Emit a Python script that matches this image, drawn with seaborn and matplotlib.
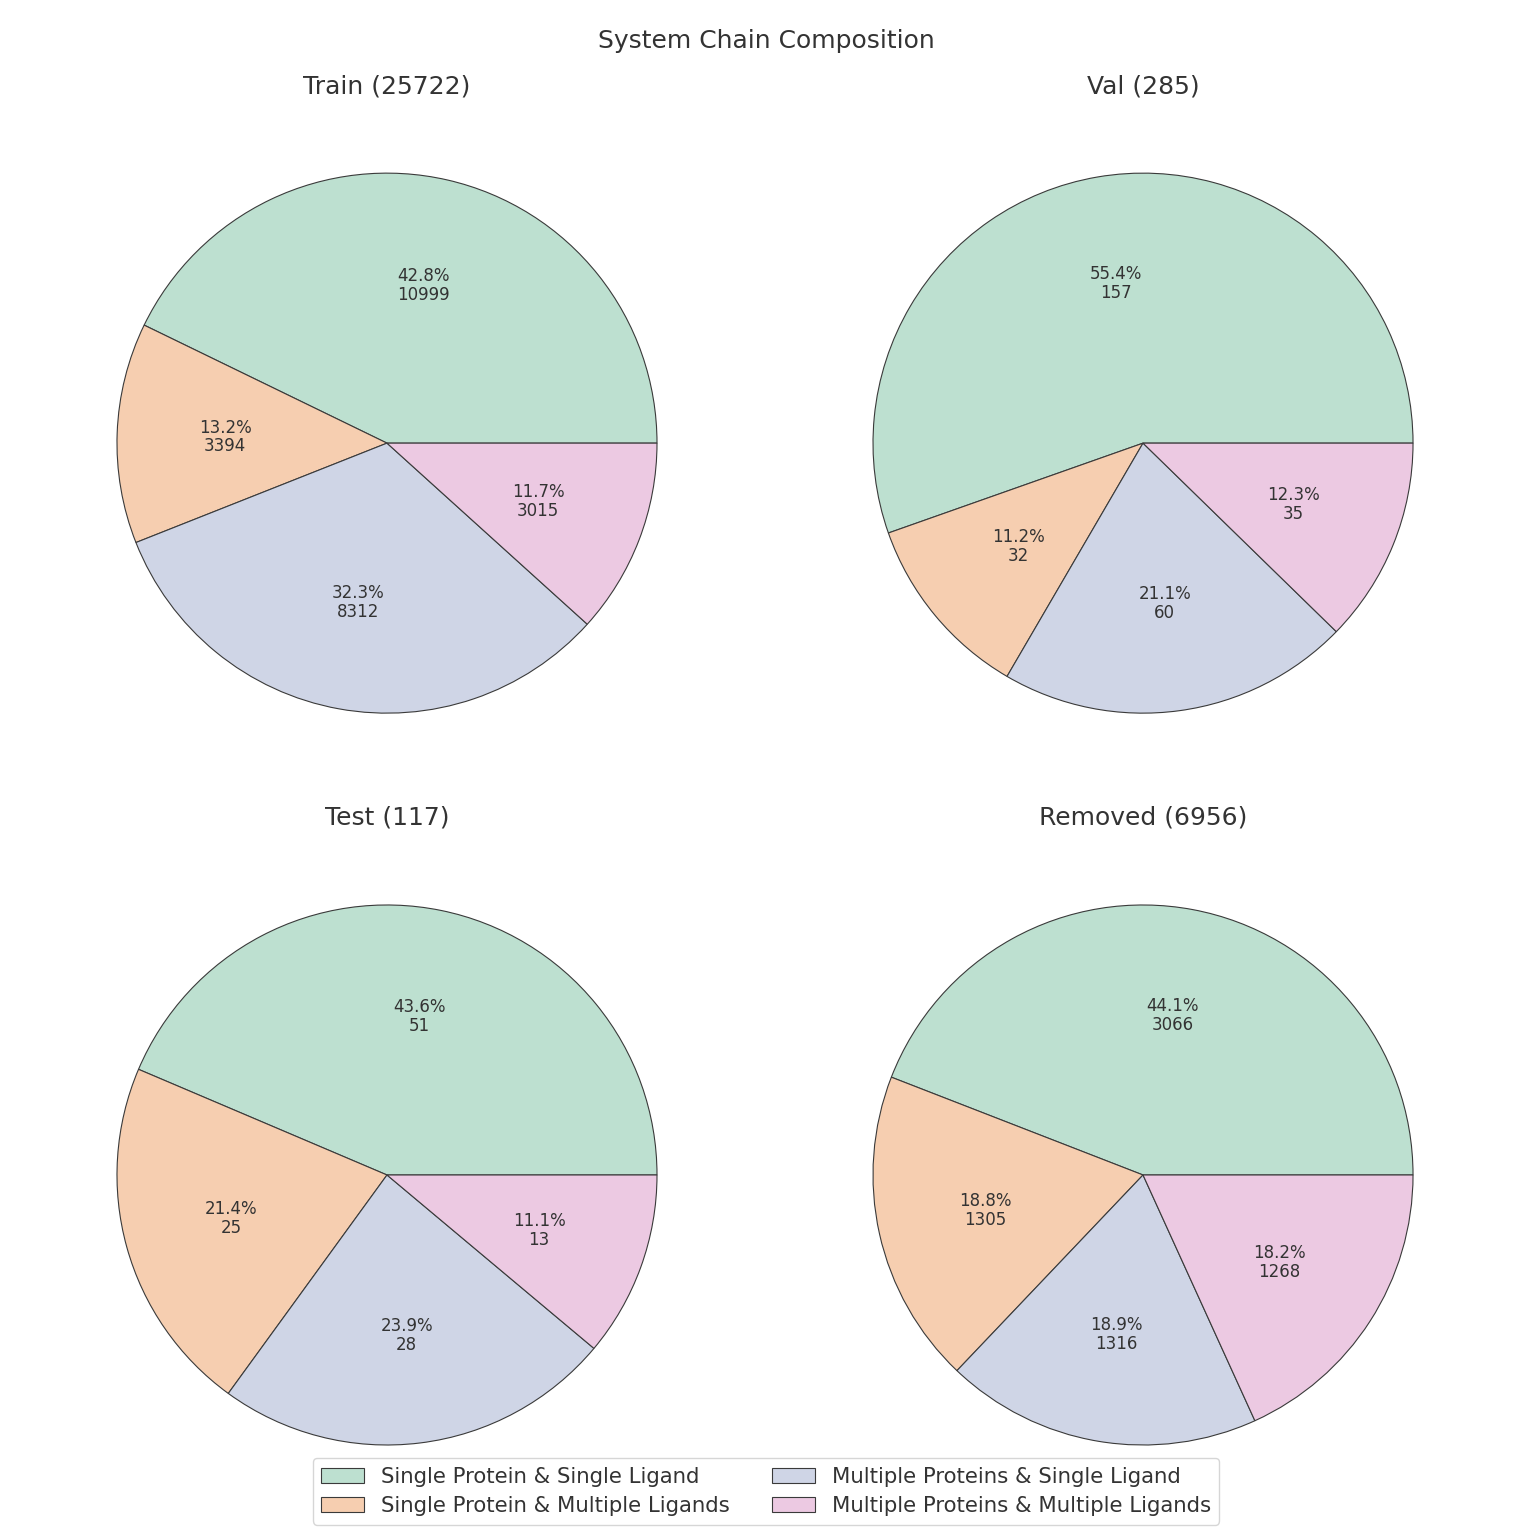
import matplotlib
matplotlib.use("Agg")
import matplotlib.pyplot as plt
import numpy as np
import seaborn as sns

categories = [
    "Single Protein & Single Ligand",
    "Single Protein & Multiple Ligands",
    "Multiple Proteins & Single Ligand",
    "Multiple Proteins & Multiple Ligands",
]

splits = ["Train", "Val", "Test", "Removed"]
split_totals = [25722, 285, 117, 6956]

# counts and percentages as printed on each wedge
train_counts = [10999, 3394, 8312, 3015]
train_pct = [42.8, 13.2, 32.3, 11.7]
val_counts = [157, 32, 60, 35]
val_pct = [55.4, 11.2, 21.1, 12.3]
test_counts = [51, 25, 28, 13]
test_pct = [43.6, 21.4, 23.9, 11.1]
removed_counts = [3066, 1305, 1316, 1268]
removed_pct = [44.1, 18.8, 18.9, 18.2]

all_counts = [train_counts, val_counts, test_counts, removed_counts]
all_pct = [train_pct, val_pct, test_pct, removed_pct]

sns.set_theme(style="white")
plt.rcParams["font.family"] = ["DejaVu Sans"]
text_color = "#333333"

# washed-out Set2 look
colors = sns.color_palette(["#bde0d0", "#f6ceb0", "#cfd5e6", "#ecc9e2"])

fig, axes = plt.subplots(2, 2, figsize=(15.32, 15.30), dpi=100)
fig.subplots_adjust(left=0.0323, right=0.9664, bottom=0.0114, top=0.931,
                    wspace=0.12, hspace=0.084)

for ax, name, total, pcts, counts in zip(axes.flat, splits, split_totals, all_pct, all_counts):
    wedges, texts = ax.pie(
        pcts,
        colors=colors,
        startangle=0,
        wedgeprops=dict(edgecolor="#3a3a3a", linewidth=0.8),
    )
    # labels at the default autopct distance
    for w, p, c in zip(wedges, pcts, counts):
        ang = np.deg2rad((w.theta1 + w.theta2) / 2)
        ax.text(0.6 * np.cos(ang), 0.6 * np.sin(ang), f"{p:.1f}%\n{c}",
                ha="center", va="center", fontsize=12, color=text_color,
                linespacing=1.05)
    ax.set_title(f"{name} ({total})", fontsize=18, color=text_color, pad=9)
    ax.set_aspect("equal")

fig.suptitle("System Chain Composition", fontsize=18, color=text_color, y=0.973, va="center")

handles = axes.flat[0].patches[:4]
leg = fig.legend(handles, categories, loc="lower center", bbox_to_anchor=(0.5, 0.0),
                 ncol=2, fontsize=15.3, frameon=True, borderaxespad=0.25,
                 handlelength=2.0, columnspacing=2.0, labelspacing=0.45)
for t in leg.get_texts():
    t.set_color(text_color)

fig.savefig("out.png", dpi=100)
